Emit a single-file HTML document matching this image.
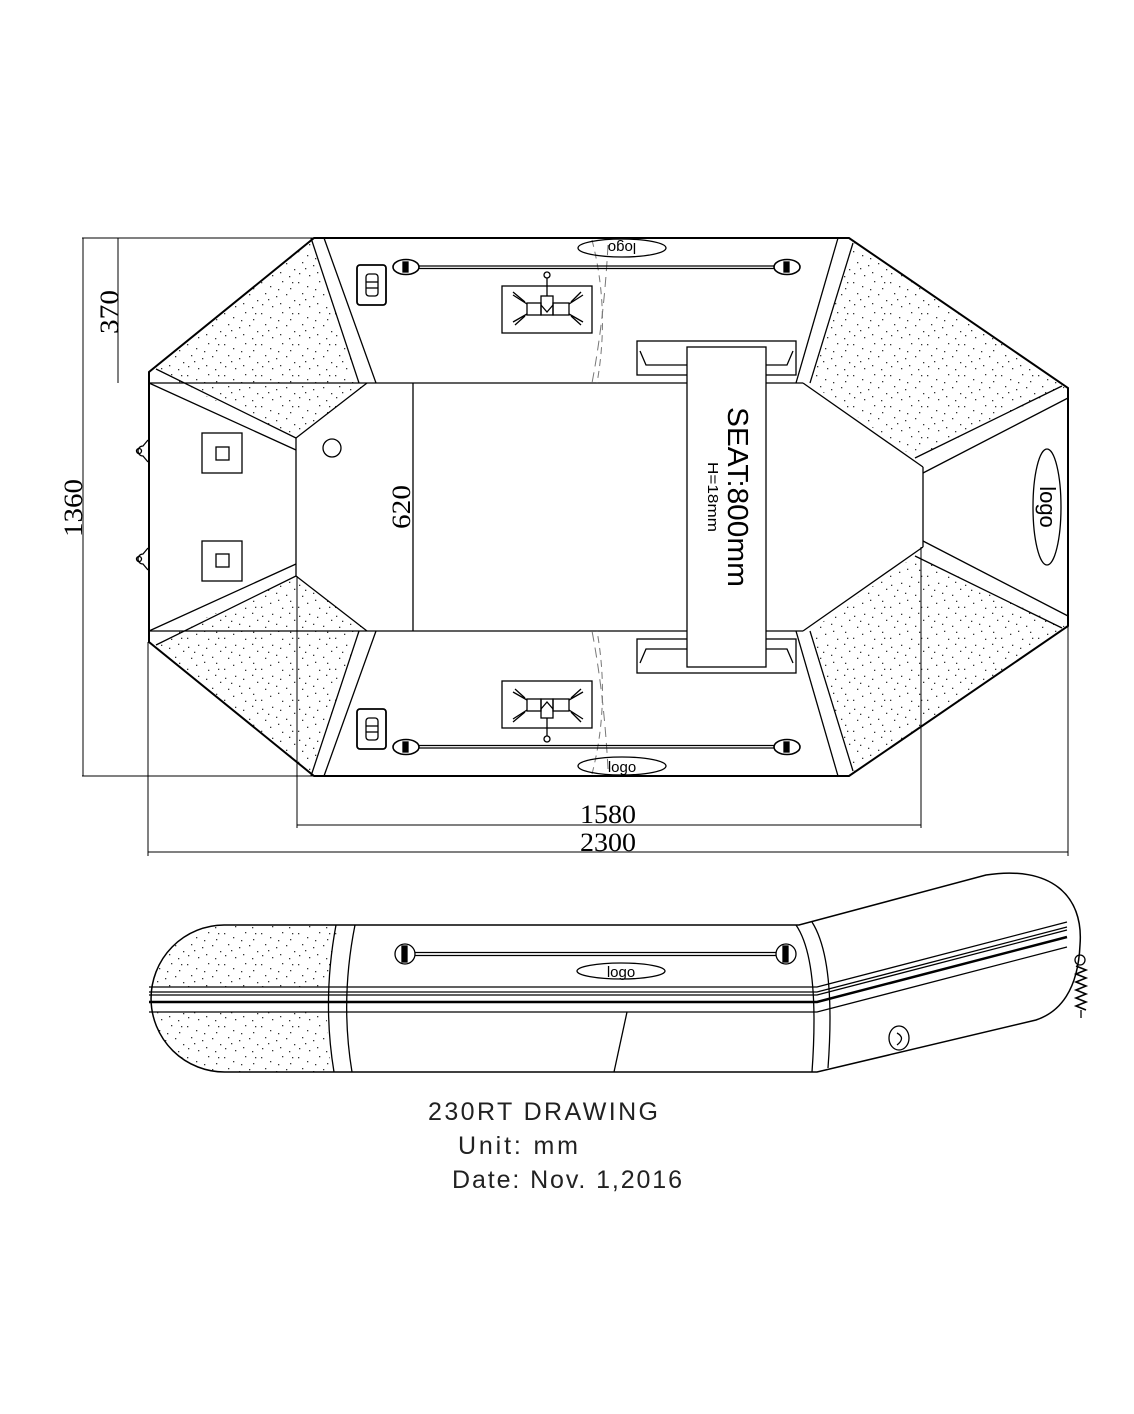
<!DOCTYPE html>
<html><head><meta charset="utf-8"><style>html,body{margin:0;padding:0;background:#fff}svg{display:block}</style></head>
<body>
<svg width="1134" height="1414" viewBox="0 0 1134 1414" xmlns="http://www.w3.org/2000/svg">
<defs>
<pattern id="dots" patternUnits="userSpaceOnUse" width="37" height="31">
<g fill="#333">
<rect x="2" y="3" width="1.3" height="1.3"/><rect x="11" y="7" width="1.3" height="1.3"/><rect x="23" y="2" width="1.3" height="1.3"/><rect x="31" y="9" width="1.3" height="1.3"/>
<rect x="6" y="14" width="1.3" height="1.3"/><rect x="17" y="17" width="1.3" height="1.3"/><rect x="27" y="15" width="1.3" height="1.3"/><rect x="35" y="21" width="1.3" height="1.3"/>
<rect x="3" y="25" width="1.3" height="1.3"/><rect x="13" y="27" width="1.3" height="1.3"/><rect x="21" y="24" width="1.3" height="1.3"/><rect x="30" y="28" width="1.3" height="1.3"/>
<rect x="9" y="20" width="1.3" height="1.3"/><rect x="19" y="10" width="1.3" height="1.3"/><rect x="33" y="3" width="1.3" height="1.3"/>
</g>
</pattern>
</defs>
<g fill="none" stroke="#000" stroke-width="1.3">

<g fill="url(#dots)" stroke="none">
<polygon points="311,239 152,371 296,438 364,385 359,383"/>
<polygon points="853,241 1066,387 915,458 810,383"/>
<g transform="matrix(1 0 0 -1 0 1014)">
<polygon points="311,239 152,371 296,438 364,385 359,383"/>
<polygon points="853,241 1066,387 915,458 810,383"/>
</g>
</g>

<polygon points="314,238 849,238 1068,388 1068,626 849,776 314,776 149,642 149,372" stroke-width="2"/>

<g id="half">
<line x1="311" y1="238" x2="359" y2="383"/>
<line x1="324" y1="238" x2="376" y2="383"/>
<line x1="156" y1="369" x2="296" y2="438"/>
<line x1="149" y1="383" x2="296" y2="450"/>
<line x1="296" y1="438" x2="367" y2="383"/>
<line x1="149" y1="383" x2="803" y2="383"/>
<line x1="838" y1="238" x2="796" y2="383"/>
<line x1="853" y1="243" x2="810" y2="383"/>
<line x1="803" y1="383" x2="923" y2="467"/>
<line x1="915" y1="458" x2="1062" y2="386"/>
<line x1="923" y1="473" x2="1068" y2="398"/>
<path d="M592 240 Q610 310 597 383" stroke-dasharray="7,5" stroke="#777" stroke-width="1"/>
<path d="M608 245 Q604 320 592 383" stroke-dasharray="10,6" stroke="#777" stroke-width="1"/>
<rect x="357" y="265" width="29" height="40" rx="3" stroke-width="1.8"/>
<rect x="366" y="274" width="12" height="22" rx="3"/>
<line x1="366" y1="282" x2="378" y2="282"/><line x1="366" y1="288" x2="378" y2="288"/>
<ellipse cx="406" cy="267" rx="13" ry="7.5" stroke-width="1.6"/>
<rect x="403" y="262" width="5" height="10" fill="#000"/>
<ellipse cx="787" cy="267" rx="13" ry="7.5" stroke-width="1.6"/>
<rect x="784" y="262" width="5" height="10" fill="#000"/>
<line x1="419" y1="266" x2="774" y2="266"/><line x1="419" y1="268.5" x2="774" y2="268.5"/>
<rect x="502" y="286" width="90" height="47"/>
<rect x="541" y="296" width="12" height="19"/>
<rect x="527" y="303" width="14" height="12"/><rect x="553" y="303" width="16" height="12"/>
<polyline points="541,305 547,312 553,305"/>
<line x1="547" y1="296" x2="547" y2="278"/><circle cx="547" cy="275" r="3"/>
<line x1="527" y1="304" x2="513" y2="295"/><line x1="525" y1="302" x2="513" y2="292"/>
<line x1="527" y1="314" x2="513" y2="322"/><line x1="525" y1="316" x2="515" y2="325"/>
<line x1="569" y1="304" x2="583" y2="295"/><line x1="571" y1="302" x2="581" y2="292"/>
<line x1="569" y1="314" x2="583" y2="322"/><line x1="571" y1="316" x2="581" y2="325"/>
<rect x="637" y="341" width="159" height="34"/>
<polyline points="640,351 646,365 787,365 793,351"/>
</g>
<use href="#half" transform="matrix(1 0 0 -1 0 1014)"/>

<line x1="296" y1="438" x2="296" y2="576"/>
<line x1="923" y1="467" x2="923" y2="547"/>
<line x1="413" y1="383" x2="413" y2="631"/>
<circle cx="332" cy="448" r="9"/>
<rect x="202" y="433" width="40" height="40"/><rect x="216" y="447" width="13" height="13"/>
<rect x="202" y="541" width="40" height="40"/><rect x="216" y="554" width="13" height="13"/>
<path d="M148 440 L143 446 A5 5 0 1 0 143 456 L148 462"/><circle cx="139" cy="451" r="2.5"/>
<path d="M148 548 L143 554 A5 5 0 1 0 143 564 L148 570"/><circle cx="139" cy="559" r="2.5"/>

<rect x="687" y="347" width="79" height="320" fill="#fff"/>

<ellipse cx="622" cy="248" rx="44" ry="9"/>
<ellipse cx="622" cy="766" rx="44" ry="9"/>
<ellipse cx="1047" cy="507" rx="14" ry="58"/>

<g stroke-width="1">
<line x1="82" y1="238" x2="314" y2="238"/>
<line x1="82" y1="776" x2="314" y2="776"/>
<line x1="83" y1="238" x2="83" y2="776"/>
<line x1="118" y1="238" x2="118" y2="383"/>
<line x1="148" y1="642" x2="148" y2="856"/>
<line x1="1068" y1="626" x2="1068" y2="856"/>
<line x1="148" y1="852" x2="1068" y2="852"/>
<line x1="297" y1="576" x2="297" y2="828"/>
<line x1="921" y1="547" x2="921" y2="828"/>
<line x1="297" y1="825" x2="921" y2="825"/>
</g>

<path d="M342 925 L224 925 A73.5 73.5 0 0 0 225 1072 L332 1072 Q318 1000 342 925Z" fill="url(#dots)" stroke="none"/>
<rect x="149" y="987" width="670" height="25" fill="#fff" stroke="none"/>
<path d="M224 925 L799 925 L986 875 C1050 865 1084 895 1080 945 C1078 990 1060 1012 1036 1020 L817 1072 L225 1072 A73.5 73.5 0 0 1 224 925Z" stroke-width="1.5"/>
<path d="M336 925 Q322 1000 334 1072"/><path d="M355 925 Q340 1000 352 1072"/>
<path d="M796 925 Q820 960 812 1072"/><path d="M812 922 Q836 960 828 1068"/>
<g>
<path d="M149 987 L817 987 L1067 922"/>
<path d="M149 992 L817 992 L1067 927"/>
<path d="M149 995 L817 995 L1067 930"/>
<path d="M149 1002 L817 1002 L1067 937" stroke-width="2.5"/>
<path d="M149 1012 L817 1012 L1067 947"/>
</g>
<line x1="627" y1="1012" x2="614" y2="1072"/>
<circle cx="405" cy="954" r="10"/><rect x="402" y="946" width="5" height="16" fill="#000"/>
<circle cx="786" cy="954" r="10"/><rect x="783" y="946" width="5" height="16" fill="#000"/>
<line x1="415" y1="952.5" x2="776" y2="952.5"/><line x1="415" y1="955.5" x2="776" y2="955.5"/>
<ellipse cx="621" cy="971" rx="44" ry="8"/>
<ellipse cx="899" cy="1038" rx="10" ry="12"/><path d="M897 1033 Q906 1038 897 1045"/>
<circle cx="1080" cy="960" r="5"/>
<path d="M1076 966 L1086 970 L1076 974 L1086 978 L1076 982 L1086 986 L1076 990 L1086 994 L1076 998 L1086 1002 L1076 1006 L1086 1010" stroke-width="1.6"/>
<line x1="1081" y1="1010" x2="1081" y2="1018"/>
</g>

<g font-family="'Liberation Serif', serif" font-size="26" fill="#000" text-anchor="middle">
<text x="608" y="823" textLength="56" lengthAdjust="spacingAndGlyphs">1580</text>
<text x="608" y="851" textLength="56" lengthAdjust="spacingAndGlyphs">2300</text>
<text transform="translate(82,508) rotate(-90)" textLength="58" lengthAdjust="spacingAndGlyphs">1360</text>
<text transform="translate(118,312) rotate(-90)" textLength="44" lengthAdjust="spacingAndGlyphs">370</text>
<text transform="translate(410,507) rotate(-90)" textLength="44" lengthAdjust="spacingAndGlyphs">620</text>
</g>
<g font-family="'Liberation Sans', sans-serif" fill="#000" text-anchor="middle">
<text transform="translate(728,497) rotate(90)" font-size="29" textLength="180" lengthAdjust="spacingAndGlyphs">SEAT:800mm</text>
<text transform="translate(708,497) rotate(90)" font-size="15" textLength="70" lengthAdjust="spacingAndGlyphs">H=18mm</text>
<text transform="translate(622,243) rotate(180)" font-size="15">logo</text>
<text x="622" y="772" font-size="15">logo</text>
<text x="621" y="977" font-size="15">logo</text>
<text transform="translate(1040,507) rotate(90)" font-size="22">logo</text>
</g>
<g font-family="'Liberation Sans', sans-serif" font-size="25" fill="#222" lengthAdjust="spacing">
<text x="428" y="1120" textLength="230">230RT  DRAWING</text>
<text x="458" y="1154" textLength="120">Unit:  mm</text>
<text x="452" y="1188" textLength="230">Date:  Nov. 1,2016</text>
</g>
</svg>
</body></html>
